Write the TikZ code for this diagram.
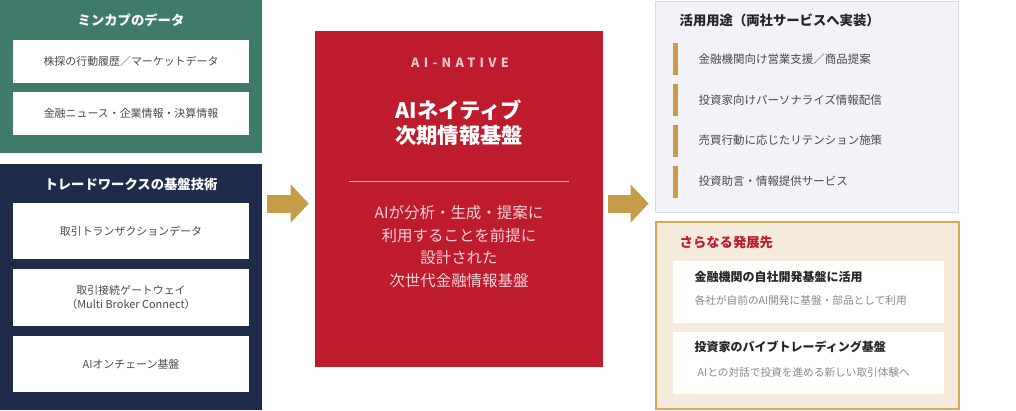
\documentclass[tikz,border=0pt]{standalone}
\usepackage{fontspec}
\setmainfont{Noto Sans CJK JP}
\usetikzlibrary{arrows.meta}

\definecolor{mkgreen}{HTML}{3E7B6B}
\definecolor{twnavy}{HTML}{1F2B4B}
\definecolor{corered}{HTML}{BE1B2D}
\definecolor{gold}{HTML}{C69C48}
\definecolor{usefill}{HTML}{F3F2F9}
\definecolor{useline}{HTML}{DADAE4}
\definecolor{futfill}{HTML}{F4EBDD}
\definecolor{futline}{HTML}{D5AA50}
\definecolor{itemgray}{HTML}{4A4A4A}
\definecolor{subgray}{HTML}{8A8A8A}
\definecolor{corepink}{HTML}{F3D2D6}
\definecolor{tagpink}{HTML}{F5C3CA}

\tikzset{
  panel/.style={rectangle, inner sep=0pt, minimum width=196.5pt},
  paneltitle/.style={text=white, font=\fontsize{10}{12}\selectfont\bfseries},
  srcbox/.style={rectangle, fill=white, inner sep=0pt, minimum width=177pt,
    text=itemgray, align=center, font=\fontsize{8.2}{11}\selectfont},
  bar/.style={rectangle, fill=gold, inner sep=0pt, minimum width=3.75pt, minimum height=24pt},
  useitem/.style={anchor=west, text=itemgray, font=\fontsize{8.6}{11}\selectfont},
  futbox/.style={rectangle, fill=white, inner sep=0pt, minimum width=203.25pt, minimum height=46.5pt},
  futhead/.style={anchor=west, text=black!85, font=\fontsize{9}{11}\selectfont\bfseries},
  futsub/.style={anchor=west, text=subgray, font=\fontsize{8}{10}\selectfont},
  flow/.style={draw=gold, line width=13.5pt, -{Triangle[length=13.5pt, width=27.75pt]},
    shorten <=3.75pt, shorten >=4.5pt}
}

\begin{document}
\begin{tikzpicture}[x=0.75pt, y=-0.75pt]
  \useasboundingbox (0,0) rectangle (1016,410);

  % minkabu data
  \node[panel, fill=mkgreen, minimum height=114.75pt] (mk) at (131,76.5) {};
  \node[paneltitle] (mkt) at (131,20) {ミンカプのデータ};
  \node[srcbox, minimum height=32.25pt] (mk1) at (131,61.5) {株探の行動履歴／マーケットデータ};
  \node[srcbox, minimum height=32.25pt] (mk2) at (131,113.5) {金融ニュース・企業情報・決算情報};

  % tradeworks technology
  \node[panel, fill=twnavy, minimum height=184.5pt] (tw) at (131,287) {};
  \node[paneltitle] (twt) at (131,184) {トレードワークスの基盤技術};
  \node[srcbox, minimum height=42pt] (tw1) at (131,231) {取引トランザクションデータ};
  \node[srcbox, minimum height=42.75pt] (tw2) at (131,297.5) {取引接続ゲートウェイ\\（Multi Broker Connect）};
  \node[srcbox, minimum height=42pt] (tw3) at (131,364) {AIオンチェーン基盤};

  % core
  \node[rectangle, fill=corered, inner sep=0pt, minimum width=216pt, minimum height=252pt] (core) at (459,199) {};
  \node[text=tagpink, font=\fontsize{9.5}{11}\selectfont\bfseries\addfontfeature{LetterSpace=34}] (coretag) at (460,63) {AI-NATIVE};
  \node[text=white, align=center, font=\fontsize{16}{19}\selectfont\bfseries] (coretitle) at (459,122.5) {AIネイティブ\\次期情報基盤};
  \draw[corepink!80!corered, line width=0.6pt] (349,181) -- (569,181);
  \node[text=corepink, align=center, font=\fontsize{11.6}{16.9}\selectfont] (corebody) at (459,246.5)
    {AIが分析・生成・提案に\\利用することを前提に\\設計された\\次世代金融情報基盤};

  % uses
  \node[rectangle, fill=usefill, draw=useline, line width=0.6pt, inner sep=0pt,
    minimum width=227.25pt, minimum height=158.25pt] (uses) at (806.5,106.5) {};
  \node[anchor=west, text=black!85, font=\fontsize{10}{12}\selectfont\bfseries] (usest) at (675,20) {活用用途（両社サービスへ実装）};
  \node[bar] (b1) at (675.5,59) {};
  \node[bar] (b2) at (675.5,100) {};
  \node[bar] (b3) at (675.5,140.5) {};
  \node[bar] (b4) at (675.5,181.5) {};
  \node[useitem] (u1) at (694,59) {金融機関向け営業支援／商品提案};
  \node[useitem] (u2) at (694,100) {投資家向けパーソナライズ情報配信};
  \node[useitem] (u3) at (694,140.5) {売買行動に応じたリテンション施策};
  \node[useitem] (u4) at (694,181.5) {投資助言・情報提供サービス};

  % future
  \node[rectangle, fill=futfill, draw=futline, line width=1.1pt, inner sep=0pt,
    minimum width=227.25pt, minimum height=140.25pt] (fut) at (807.5,315.5) {};
  \node[anchor=west, text=corered, font=\fontsize{10}{12}\selectfont\bfseries] (futt) at (675,242) {さらなる発展先};
  \node[futbox] (f1) at (808.5,292) {};
  \node[futbox] (f2) at (808.5,363) {};
  \node[futhead] (f1h) at (690,277) {金融機関の自社開発基盤に活用};
  \node[futsub] (f1s) at (690,300) {各社が自前のAI開発に基盤・部品として利用};
  \node[futhead] (f2h) at (690,347) {投資家のバイブトレーディング基盤};
  \node[futsub] (f2s) at (693,372) {AIとの対話で投資を進める新しい取引体験へ};

  % flow arrows
  \draw[flow] ([yshift=-3.4pt]tw.east |- core.west) -- ([yshift=-3.4pt]core.west);
  \draw[flow] ([yshift=-3.4pt]core.east) -- ([yshift=-3.4pt]uses.west |- core.east);
\end{tikzpicture}
\end{document}
